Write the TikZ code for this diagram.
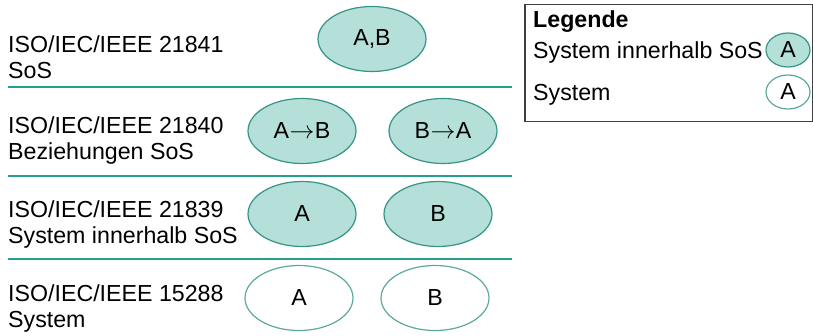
\documentclass[tikz,border=0pt]{standalone}
\usepackage{fontspec}
\setmainfont{Liberation Sans}
\usetikzlibrary{shapes.geometric}
\definecolor{tealfill}{RGB}{181,224,218}
\definecolor{tealedge}{RGB}{52,148,133}
\definecolor{tealline}{RGB}{38,160,140}
\definecolor{boxgray}{RGB}{64,64,64}
% thin relation arrow between two system letters
\newcommand{\relarrow}{\kern0.5pt\raisebox{0.5pt}{$\rightarrow$}\kern0.5pt}
\begin{document}
\begin{tikzpicture}[x=1pt,y=-1pt,
  every node/.style={font=\fontsize{23.2}{25.5}\selectfont, text=black},
  label/.style={anchor=west, align=left, inner sep=0pt},
  sosnode/.style={ellipse, draw=tealedge, fill=tealfill, line width=1.2pt,
    minimum width=108pt, minimum height=65pt, inner sep=0pt},
  sysnode/.style={ellipse, draw=tealedge!80!white, fill=white, line width=1.2pt,
    minimum width=108pt, minimum height=65pt, inner sep=0pt},
  legsos/.style={sosnode, minimum width=44pt, minimum height=34pt},
  legsys/.style={sysnode, minimum width=44pt, minimum height=34pt},
  divider/.style={draw=tealline, line width=1.6pt}]
\useasboundingbox (0,0) rectangle (813,336);

% row labels
\node[label] (l1) at (8,57) {ISO/IEC/IEEE 21841\\SoS};
\node[label] (l2) at (8,140.5) {ISO/IEC/IEEE 21840\\Beziehungen SoS};
\node[label] (l3) at (8,224.5) {ISO/IEC/IEEE 21839\\System innerhalb SoS};
\node[label] (l4) at (8,308.5) {ISO/IEC/IEEE 15288\\System};

% divider lines between the rows
\coordinate (d1a) at (8,87);  \coordinate (d1b) at (512,87);
\coordinate (d2a) at (8,176); \coordinate (d2b) at (512,176);
\coordinate (d3a) at (8,259); \coordinate (d3b) at (512,259);
\draw[divider] (d1a) -- (d1b);
\draw[divider] (d2a) -- (d2b);
\draw[divider] (d3a) -- (d3b);

% systems
\node[sosnode] (ab)  at (372,39)  {A,B};
\node[sosnode] (a2b) at (302,131) {A\relarrow B};
\node[sosnode] (b2a) at (443,131) {B\relarrow A};
\node[sosnode] (a3)  at (302,214) {A};
\node[sosnode] (b3)  at (438,214) {B};
\node[sysnode] (a4)  at (299,298) {A};
\node[sysnode] (b4)  at (435,298) {B};

% legend
\node[draw=boxgray, line width=1.5pt, minimum width=288pt, minimum height=117pt,
  inner sep=0pt, anchor=north west] (leg) at (524,4) {};
\node[anchor=base west, inner sep=0pt, font=\fontsize{23.2}{25.5}\selectfont\bfseries] (legt) at (533,28) {Legende};
\node[anchor=base west, inner sep=0pt] (legl1) at (533,59) {System innerhalb SoS};
\node[anchor=base west, inner sep=0pt] (legl2) at (533,101) {System};
\node[legsos] (lega) at (788,50) {A};
\node[legsys] (legb) at (788,92) {A};
\end{tikzpicture}
\end{document}
